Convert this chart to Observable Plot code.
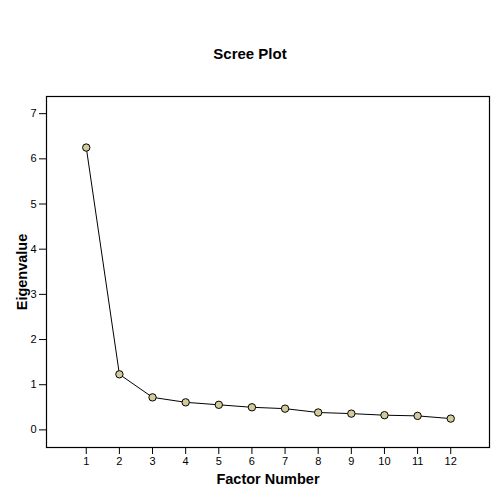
<!DOCTYPE html>
<html>
<head>
<meta charset="utf-8">
<script src="https://cdn.jsdelivr.net/npm/d3@7"></script>
<script src="https://cdn.jsdelivr.net/npm/@observablehq/plot@0.6"></script>
<style>
  html, body { margin: 0; padding: 0; background: #fff; }
  #wrap { width: 500px; height: 500px; overflow: hidden; }
  #title { height: 70px; width: 500px; position: relative; }
  #title span { position: absolute; left: 0; width: 500px; top: 45px; line-height: 15px; text-align: center;
    font: bold 15px "Liberation Sans", Arial, sans-serif; color: #000; }
  svg { display: block; }
</style>
</head>
<body>
<div id="wrap">
  <div id="title"><span>Scree Plot</span></div>
  <div id="chart"></div>
</div>
<script>
const titleText = "Scree Plot";
const xLabel = "Factor Number";
const yLabel = "Eigenvalue";
const factors = [1, 2, 3, 4, 5, 6, 7, 8, 9, 10, 11, 12];
const eigenvalues = [6.25, 1.23, 0.72, 0.61, 0.555, 0.50, 0.47, 0.385, 0.36, 0.325, 0.31, 0.25];
const xTicks = [1, 2, 3, 4, 5, 6, 7, 8, 9, 10, 11, 12];
const yTicks = [0, 1, 2, 3, 4, 5, 6, 7];

document.querySelector("#title span").textContent = titleText;
const data = factors.map((f, i) => ({factor: f, eigen: eigenvalues[i]}));

const chart = Plot.plot({
  width: 500,
  height: 430,
  marginLeft: 46,
  marginRight: 11,
  marginTop: 26,
  marginBottom: 53,
  style: {fontFamily: "'Liberation Sans', Arial, sans-serif", fontSize: "11px", color: "#000", background: "#fff"},
  x: {domain: [-0.2, 13.17]},
  y: {domain: [-0.39, 7.38]},
  marks: [
    Plot.frame({stroke: "#000", strokeWidth: 1.2}),
    Plot.axisX({ticks: xTicks, tickSize: 7, tickPadding: 3, tickFormat: d => String(d), fontSize: 11,
      label: null}),
    Plot.axisY({ticks: yTicks, tickSize: 7, tickPadding: 3, tickFormat: d => String(d), fontSize: 11,
      label: null}),
    Plot.axisX({ticks: [], tickSize: 0, label: xLabel, labelAnchor: "center", labelArrow: "none",
      labelOffset: 36, fontSize: 14.5, fontWeight: "bold"}),
    Plot.axisY({ticks: [], tickSize: 0, label: yLabel, labelAnchor: "center", labelArrow: "none",
      labelOffset: 30, fontSize: 14.5, fontWeight: "bold"}),
    Plot.line(data, {x: "factor", y: "eigen", stroke: "#000", strokeWidth: 1}),
    Plot.dot(data, {x: "factor", y: "eigen", r: 3.7, fill: "#d3cb9b", stroke: "#000", strokeWidth: 1})
  ]
});
document.getElementById("chart").appendChild(chart);
</script>
</body>
</html>
